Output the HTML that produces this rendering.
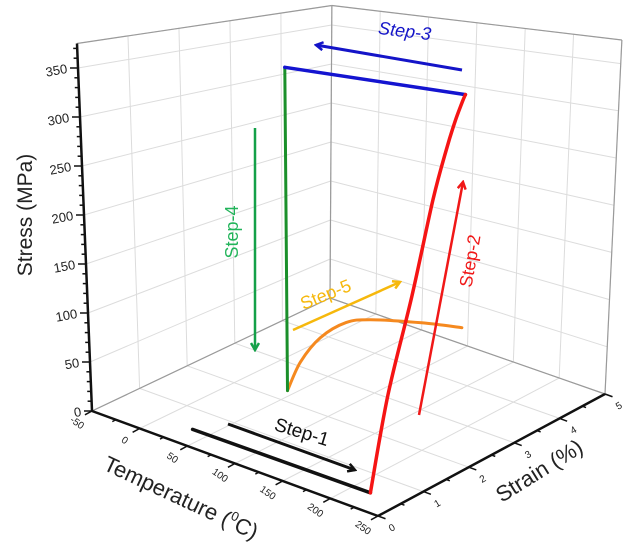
<!DOCTYPE html>
<html><head><meta charset="utf-8"><style>
html,body{margin:0;padding:0;background:#fff;}
svg{display:block;font-family:"Liberation Sans",sans-serif;}
</style></head><body>
<svg id="chart" width="629" height="552" viewBox="0 0 629 552" xmlns="http://www.w3.org/2000/svg">
<defs>
<marker id="ah-black" markerWidth="10" markerHeight="10" refX="8" refY="5" orient="auto" markerUnits="userSpaceOnUse"><path d="M1,1 L8,5 L1,9" fill="none" stroke="#111" stroke-width="2.5"/></marker>
<marker id="ah-blue" markerWidth="10" markerHeight="10" refX="8" refY="5" orient="auto" markerUnits="userSpaceOnUse"><path d="M1,1 L8,5 L1,9" fill="none" stroke="#1414c8" stroke-width="2.5"/></marker>
<marker id="ah-red" markerWidth="10" markerHeight="10" refX="8" refY="5" orient="auto" markerUnits="userSpaceOnUse"><path d="M1,1 L8,5 L1,9" fill="none" stroke="#f01818" stroke-width="2.5"/></marker>
<marker id="ah-green" markerWidth="10" markerHeight="10" refX="8" refY="5" orient="auto" markerUnits="userSpaceOnUse"><path d="M1,1 L8,5 L1,9" fill="none" stroke="#14a048" stroke-width="2.5"/></marker>
<marker id="ah-yellow" markerWidth="10" markerHeight="10" refX="8" refY="5" orient="auto" markerUnits="userSpaceOnUse"><path d="M1,1 L8,5 L1,9" fill="none" stroke="#f6b80c" stroke-width="2.5"/></marker>
</defs>
<g id="grid"></g>
<g id="axes"></g>
<g id="series"></g>
<g id="annot">
  <line x1="228" y1="424" x2="355" y2="470" stroke="#111" stroke-width="3" marker-end="url(#ah-black)"/>
  <text x="300" y="438" font-size="19" fill="#111" transform="rotate(17 300 438)" text-anchor="middle">Step-1</text>
  <line x1="419" y1="415" x2="463" y2="182" stroke="#f01818" stroke-width="2.5" marker-end="url(#ah-red)"/>
  <text x="476" y="262" font-size="18" fill="#f01818" transform="rotate(-80 476 262)" text-anchor="middle">Step-2</text>
  <line x1="462" y1="70" x2="316" y2="45" stroke="#1414c8" stroke-width="3" marker-end="url(#ah-blue)"/>
  <text x="404" y="37" font-size="18" font-style="italic" fill="#1414c8" transform="rotate(7 404 37)" text-anchor="middle">Step-3</text>
  <line x1="255" y1="128" x2="255" y2="350" stroke="#14a048" stroke-width="2.5" marker-end="url(#ah-green)"/>
  <text x="238" y="232" font-size="18" fill="#22b45a" transform="rotate(-90 238 232)" text-anchor="middle">Step-4</text>
  <line x1="293" y1="330" x2="400" y2="282" stroke="#f6b80c" stroke-width="2.5" marker-end="url(#ah-yellow)"/>
  <text x="328" y="300" font-size="18" fill="#f6b80c" transform="rotate(-22 328 300)" text-anchor="middle">Step-5</text>
</g>
</svg>
<script>
const tempTicks = [-50, 0, 50, 100, 150, 200, 250];
const strainTicks = [0, 1, 2, 3, 4, 5];
const stressTicks = [0, 50, 100, 150, 200, 250, 300, 350];
const step1T = [56, 242];
const step1S = [0, 0];
const step1Z = [18, 18];
const step2T = [242, 246, 250, 250, 250, 250, 250, 250];
const step2S = [0, 0.3, 0.72, 1.15, 1.42, 1.6, 1.74, 1.8];
const step2Z = [18, 100, 182, 263, 306, 331, 347, 353];
const step3T = [250, 67];
const step3S = [1.8, 1.8];
const step3Z = [353, 353];
const step4T = [67, 67];
const step4S = [1.8, 1.8];
const step4Z = [353, 20];
const step5T = [67, 81, 102, 129, 155, 208, 250];
const step5S = [1.8, 1.8, 1.8, 1.8, 1.8, 1.8, 1.8];
const step5Z = [20, 54, 85, 108, 118, 129, 135];

const NS = 'http://www.w3.org/2000/svg';
const T0 = -50, T1 = 250, S0 = 0, S1 = 5, Z1 = 375;
const cA = {x:92, y:411, k:0.98, l:-0.04};
const cB = {x:378, y:516, k:1.14, l:0.0};
const cC = {x:605, y:394, k:0.944, l:0.045};
const cD = {x:330, y:298, k:0.78, l:0.005};
function bil(u, v, key) {
  return (1-u)*(1-v)*cA[key] + u*(1-v)*cB[key] + u*v*cC[key] + (1-u)*v*cD[key];
}
function P(T, s, z) {
  const u = (T - T0)/(T1 - T0), v = (s - S0)/(S1 - S0);
  return [bil(u,v,'x') + bil(u,v,'l')*z, bil(u,v,'y') - bil(u,v,'k')*z];
}
function mk(tag, attrs, parent) {
  const e = document.createElementNS(NS, tag);
  for (const k in attrs) e.setAttribute(k, attrs[k]);
  parent.appendChild(e);
  return e;
}
function seg(p, q, attrs, parent) {
  return mk('line', Object.assign({x1:p[0], y1:p[1], x2:q[0], y2:q[1]}, attrs), parent);
}
const grid = document.getElementById('grid');
const axes = document.getElementById('axes');
const series = document.getElementById('series');
const gstyle = {stroke:'#dcdcdc', 'stroke-width':1};
const gridZ = [];
for (let z = 0; z <= Z1; z += 50) gridZ.push(z);
gridZ.push(Z1);
tempTicks.forEach(T => {
  const l = seg(P(T,S0,0), P(T,S1,0), gstyle, grid);
  
  
});
strainTicks.forEach(s => {
  const l = seg(P(T0,s,0), P(T1,s,0), gstyle, grid);
  
  
});
strainTicks.forEach(s => {
  const l = seg(P(T0,s,0), P(T0,s,Z1), gstyle, grid);
  
  
});
gridZ.forEach(z => {
  const l = seg(P(T0,S0,z), P(T0,S1,z), gstyle, grid);
  
  
});
tempTicks.forEach(T => {
  const l = seg(P(T,S1,0), P(T,S1,Z1), gstyle, grid);
  
  
});
gridZ.forEach(z => {
  const l = seg(P(T0,S1,z), P(T1,S1,z), gstyle, grid);
  
  
});
const estyle = {stroke:'#9a9a9a', 'stroke-width':1.2};
[[P(T0,S0,Z1),P(T0,S1,Z1)],[P(T0,S1,Z1),P(T1,S1,Z1)],[P(T0,S1,0),P(T0,S1,Z1)],[P(T1,S1,0),P(T1,S1,Z1)],[P(T0,S0,0),P(T0,S1,0)],[P(T0,S1,0),P(T1,S1,0)]].forEach(e => {
  const l = seg(e[0], e[1], estyle, grid);
  
  
});
const astyle = {stroke:'#111', 'stroke-width':2.5};
let ax = seg(P(T0,S0,0), P(T0,S0,Z1), astyle, axes);


ax = seg(P(T0,S0,0), P(T1,S0,0), astyle, axes);


ax = seg(P(T1,S0,0), P(T1,S1,0), astyle, axes);


for (let z = 0; z <= 370; z += 10) {
  const p = P(T0,S0,z);
  const major = z % 50 === 0;
  const t = seg(p, [p[0]-(major?8:4), p[1]], {stroke:'#111','stroke-width':1.5}, axes);
  
  
}
stressTicks.forEach(z => {
  const p = P(T0,S0,z);
  const tx = mk('text', {x:p[0]-11, y:p[1]+5, 'font-size':13, 'text-anchor':'end', fill:'#222', transform:`rotate(-10 ${p[0]-11} ${p[1]})`}, axes);
  tx.textContent = z;
  
  
});
const sd = [cB.x-cC.x, cB.y-cC.y]; const sdl = Math.hypot(sd[0], sd[1]);
const out1 = [sd[0]/sdl, sd[1]/sdl];
for (let T = -50; T <= 250; T += 25) {
  const p = P(T,S0,0);
  const len = (T % 50 === 0) ? 8 : 4;
  const t = seg(p, [p[0]+out1[0]*len, p[1]+out1[1]*len], {stroke:'#111','stroke-width':1.5}, axes);
  
  
}
tempTicks.forEach(T => {
  const p = P(T,S0,0);
  const lx = p[0]-15, ly = p[1]+12;
  const tx = mk('text', {x:lx, y:ly+3, 'font-size':10, 'text-anchor':'middle', fill:'#222', transform:`rotate(35 ${lx} ${ly})`}, axes);
  tx.textContent = T;
  
  
});
const td = [cB.x-cA.x, cB.y-cA.y]; const tdl = Math.hypot(td[0], td[1]);
const out2 = [td[0]/tdl, td[1]/tdl];
for (let s = 0; s <= 5; s += 0.5) {
  const p = P(T1,s,0);
  const len = (s % 1 === 0) ? 8 : 4;
  const t = seg(p, [p[0]+out2[0]*len, p[1]+out2[1]*len], {stroke:'#111','stroke-width':1.5}, axes);
  
  
}
strainTicks.forEach(s => {
  const p = P(T1,s,0);
  const lx = p[0]+14, ly = p[1]+12;
  const tx = mk('text', {x:lx, y:ly+3, 'font-size':10, 'text-anchor':'middle', fill:'#222', transform:`rotate(-30 ${lx} ${ly})`}, axes);
  tx.textContent = s;
  
  
});
let tt = mk('text', {x:32, y:215, 'font-size':21, 'text-anchor':'middle', fill:'#222', transform:'rotate(-90 32 215)'}, axes);
tt.textContent = 'Stress (MPa)';


tt = mk('text', {x:180, y:505, 'font-size':22, 'text-anchor':'middle', fill:'#222', transform:'rotate(25 180 500)'}, axes);
tt.innerHTML = 'Temperature (<tspan font-size="13" dy="-9">0</tspan><tspan dy="9">C)</tspan>';


tt = mk('text', {x:540, y:478, 'font-size':22, 'text-anchor':'middle', fill:'#222', transform:'rotate(-32 540 472)'}, axes);
tt.textContent = 'Strain (%)';


function smoothPath(pts) {
  if (pts.length < 3) return 'M' + pts.map(p => p[0].toFixed(1) + ',' + p[1].toFixed(1)).join(' L');
  let d = 'M' + pts[0][0].toFixed(1) + ',' + pts[0][1].toFixed(1);
  for (let i = 0; i < pts.length - 1; i++) {
    const p0 = pts[Math.max(0, i-1)], p1 = pts[i], p2 = pts[i+1], p3 = pts[Math.min(pts.length-1, i+2)];
    const c1 = [p1[0] + (p2[0]-p0[0])/6, p1[1] + (p2[1]-p0[1])/6];
    const c2 = [p2[0] - (p3[0]-p1[0])/6, p2[1] - (p3[1]-p1[1])/6];
    d += ` C${c1[0].toFixed(1)},${c1[1].toFixed(1)} ${c2[0].toFixed(1)},${c2[1].toFixed(1)} ${p2[0].toFixed(1)},${p2[1].toFixed(1)}`;
  }
  return d;
}
function line3d(Ts, Ss, Zs, color, w, name) {
  const pts = Ts.map((T,i) => P(T, Ss[i], Zs[i]));
  const pl = mk('path', {d:smoothPath(pts), fill:'none', stroke:color, 'stroke-width':w, 'stroke-linejoin':'round', 'stroke-linecap':'round'}, series);
  
  
}
line3d(step1T, step1S, step1Z, '#111', 3.5, 'step-1-heating-line');
line3d(step5T, step5S, step5Z, '#f5891f', 3, 'step-5-recovery-line');
line3d(step4T, step4S, step4Z, '#1a8f2a', 3, 'step-4-unloading-line');
line3d(step3T, step3S, step3Z, '#1414d0', 3.5, 'step-3-cooling-line');
line3d(step2T, step2S, step2Z, '#f51414', 3.5, 'step-2-loading-line');
</script>
</body></html>
